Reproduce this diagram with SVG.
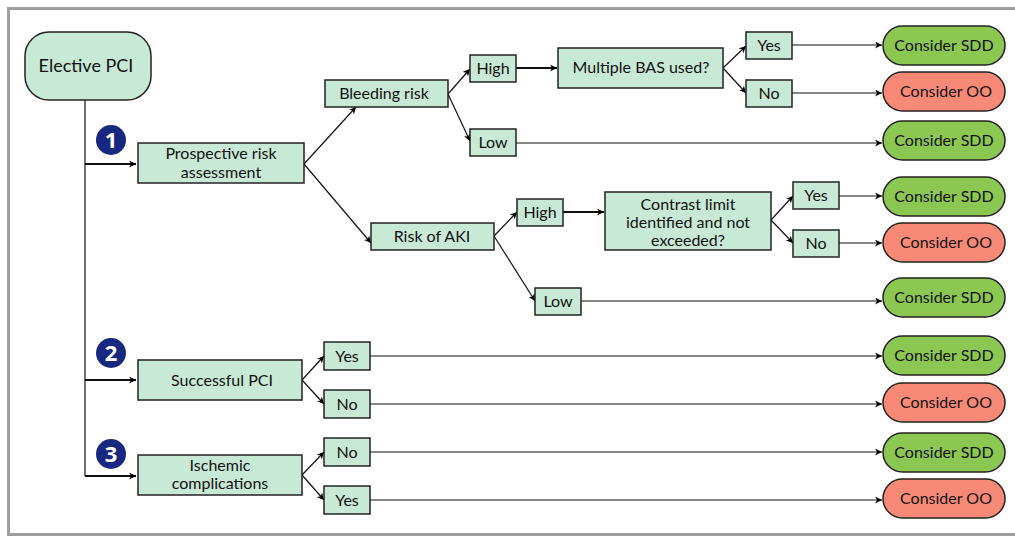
<svg xmlns="http://www.w3.org/2000/svg" width="1015" height="537" viewBox="0 0 1015 537">
<defs>
<marker id="ah" viewBox="0 0 10 10" refX="10" refY="5" markerWidth="7" markerHeight="7" markerUnits="userSpaceOnUse" orient="auto">
<path d="M0,0 L10,5 L0,10 L3,5 Z" fill="#000"/>
</marker>
</defs>
<style>
.box{fill:#c8e9d6;stroke:#222;stroke-width:1.5}
.sdd{fill:#8bc751;stroke:#222;stroke-width:1.5}
.oo{fill:#f98977;stroke:#222;stroke-width:1.5}
.badge{fill:#18277f}
.bt{fill:#fff;font-family:"Open Sans","Noto Sans",sans-serif;font-weight:bold;font-size:22px;text-anchor:middle}
text.t{font-family:Lato,"Noto Sans",sans-serif;font-size:16px;fill:#111;text-anchor:middle}
.c line,.c path{stroke:#111;stroke-width:1.2;fill:none;marker-end:url(#ah)}
.c .thick{stroke-width:2.2}
</style>
<rect x="8.5" y="8.5" width="1012" height="526" fill="#fff" stroke="#9e9e9e" stroke-width="3"/>

<g id="connectors" class="c">
<path d="M85,100 V476" style="marker-end:none" stroke-width="1.5"/>
<line x1="85" y1="164" x2="136" y2="164" class="thick"/>
<line x1="85" y1="380" x2="136" y2="380" class="thick"/>
<line x1="85" y1="476" x2="136" y2="476" class="thick"/>
<line x1="304" y1="164" x2="356" y2="107"/>
<line x1="304" y1="164" x2="371" y2="243"/>
<line x1="448" y1="94" x2="470" y2="69"/>
<line x1="448" y1="94" x2="470" y2="141"/>
<line x1="516" y1="68" x2="557" y2="68" class="thick"/>
<line x1="723" y1="68" x2="746" y2="46"/>
<line x1="723" y1="68" x2="746" y2="93"/>
<line x1="792" y1="45" x2="882" y2="45"/>
<line x1="792" y1="93" x2="882" y2="93"/>
<line x1="516" y1="143" x2="882" y2="143"/>
<line x1="494" y1="236" x2="517" y2="212"/>
<line x1="494" y1="236" x2="535" y2="301"/>
<line x1="563" y1="212" x2="604" y2="212" class="thick"/>
<line x1="771" y1="220" x2="793" y2="196"/>
<line x1="771" y1="220" x2="793" y2="243"/>
<line x1="839" y1="196" x2="882" y2="196"/>
<line x1="839" y1="243" x2="882" y2="243"/>
<line x1="581" y1="301" x2="882" y2="301"/>
<line x1="302" y1="380" x2="324" y2="356"/>
<line x1="302" y1="380" x2="324" y2="404"/>
<line x1="370" y1="356" x2="882" y2="356"/>
<line x1="370" y1="404" x2="882" y2="404"/>
<line x1="302" y1="475" x2="324" y2="452"/>
<line x1="302" y1="475" x2="324" y2="500"/>
<line x1="370" y1="452" x2="882" y2="452"/>
<line x1="370" y1="500" x2="882" y2="500"/>
</g>

<g id="elective-pci"><rect class="box" x="25" y="32" width="126" height="68" rx="24"/><text class="t" x="86" y="72" style="font-size:18px">Elective PCI</text></g>

<g id="badge-1"><circle class="badge" cx="111" cy="140" r="15"/><text class="bt" x="111" y="148">1</text></g>
<g id="badge-2"><circle class="badge" cx="111" cy="353" r="15"/><text class="bt" x="111" y="361">2</text></g>
<g id="badge-3"><circle class="badge" cx="111" cy="454" r="15"/><text class="bt" x="111" y="462">3</text></g>

<g id="prospective"><rect class="box" x="138" y="143" width="166" height="40"/><text class="t" x="221" y="159">Prospective risk</text><text class="t" x="221" y="178">assessment</text></g>
<g id="bleeding"><rect class="box" x="325" y="80" width="123" height="27"/><text class="t" x="384" y="99">Bleeding risk</text></g>
<g id="aki"><rect class="box" x="371" y="223" width="123" height="27"/><text class="t" x="432" y="242">Risk of AKI</text></g>
<g id="bleed-high"><rect class="box" x="470" y="55" width="46" height="27"/><text class="t" x="493" y="74">High</text></g>
<g id="bleed-low"><rect class="box" x="470" y="129" width="46" height="27"/><text class="t" x="493" y="148">Low</text></g>
<g id="bas"><rect class="box" x="558" y="48" width="165" height="40"/><text class="t" x="641" y="73">Multiple BAS used?</text></g>
<g id="bas-yes"><rect class="box" x="746" y="32" width="46" height="27"/><text class="t" x="769" y="51">Yes</text></g>
<g id="bas-no"><rect class="box" x="746" y="80" width="46" height="27"/><text class="t" x="769" y="99">No</text></g>
<g id="aki-high"><rect class="box" x="517" y="199" width="46" height="27"/><text class="t" x="540" y="218">High</text></g>
<g id="aki-low"><rect class="box" x="535" y="288" width="46" height="27"/><text class="t" x="558" y="307">Low</text></g>
<g id="contrast"><rect class="box" x="605" y="192" width="166" height="58"/><text class="t" x="688" y="210">Contrast limit</text><text class="t" x="688" y="228">identified and not</text><text class="t" x="688" y="246">exceeded?</text></g>
<g id="contrast-yes"><rect class="box" x="793" y="182" width="46" height="27"/><text class="t" x="816" y="201">Yes</text></g>
<g id="contrast-no"><rect class="box" x="793" y="230" width="46" height="27"/><text class="t" x="816" y="249">No</text></g>
<g id="successful"><rect class="box" x="138" y="360" width="164" height="40"/><text class="t" x="222" y="386">Successful PCI</text></g>
<g id="succ-yes"><rect class="box" x="324" y="342" width="46" height="28"/><text class="t" x="347" y="362">Yes</text></g>
<g id="succ-no"><rect class="box" x="324" y="390" width="46" height="28"/><text class="t" x="347" y="410">No</text></g>
<g id="ischemic"><rect class="box" x="138" y="455" width="164" height="40"/><text class="t" x="220" y="471">Ischemic</text><text class="t" x="220" y="489">complications</text></g>
<g id="isch-no"><rect class="box" x="324" y="438" width="46" height="28"/><text class="t" x="347" y="458">No</text></g>
<g id="isch-yes"><rect class="box" x="324" y="486" width="46" height="28"/><text class="t" x="347" y="506">Yes</text></g>

<g id="out-1"><rect class="sdd" x="883" y="26" width="122" height="39" rx="19.5"/><text class="t" x="944" y="51">Consider SDD</text></g>
<g id="out-2"><rect class="oo" x="883" y="72" width="122" height="39" rx="19.5"/><text class="t" x="946" y="97">Consider OO</text></g>
<g id="out-3"><rect class="sdd" x="883" y="121" width="122" height="39" rx="19.5"/><text class="t" x="944" y="146">Consider SDD</text></g>
<g id="out-4"><rect class="sdd" x="883" y="177" width="122" height="39" rx="19.5"/><text class="t" x="944" y="202">Consider SDD</text></g>
<g id="out-5"><rect class="oo" x="883" y="223" width="122" height="39" rx="19.5"/><text class="t" x="946" y="248">Consider OO</text></g>
<g id="out-6"><rect class="sdd" x="883" y="278" width="122" height="39" rx="19.5"/><text class="t" x="944" y="303">Consider SDD</text></g>
<g id="out-7"><rect class="sdd" x="883" y="336" width="122" height="39" rx="19.5"/><text class="t" x="944" y="361">Consider SDD</text></g>
<g id="out-8"><rect class="oo" x="883" y="383" width="122" height="39" rx="19.5"/><text class="t" x="946" y="408">Consider OO</text></g>
<g id="out-9"><rect class="sdd" x="883" y="433" width="122" height="39" rx="19.5"/><text class="t" x="944" y="458">Consider SDD</text></g>
<g id="out-10"><rect class="oo" x="883" y="479" width="122" height="39" rx="19.5"/><text class="t" x="946" y="504">Consider OO</text></g>
</svg>
